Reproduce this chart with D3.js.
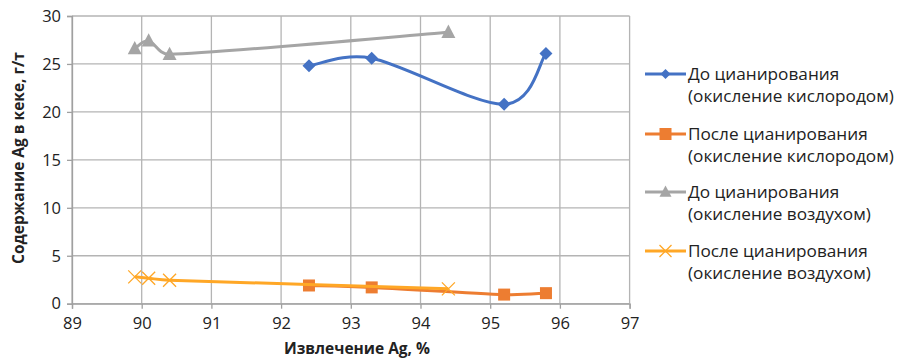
<!DOCTYPE html>
<html><head><meta charset="utf-8">
<script src="https://cdn.jsdelivr.net/npm/d3@7"></script>
<style>body{margin:0;background:#fff;} svg{font-family:"Open Sans","Noto Sans",sans-serif;}</style>
</head><body><svg id="c" width="905" height="360"></svg>
<script>
const xTicks = [89,90,91,92,93,94,95,96,97];
const yTicks = [0,5,10,15,20,25,30];
const seriesNames = [
  ["До цианирования","(окисление кислородом)"],
  ["После цианирования","(окисление кислородом)"],
  ["До цианирования","(окисление воздухом)"],
  ["После цианирования","(окисление воздухом)"]
];
const o2X = [92.4, 93.3, 95.2, 95.8];
const beforeO2 = [24.8, 25.6, 20.8, 26.1];
const afterO2 = [1.9, 1.7, 0.95, 1.1];
const airX = [89.9, 90.1, 90.4, 94.4];
const beforeAir = [26.6, 27.4, 26.0, 28.3];
const afterAir = [2.8, 2.65, 2.45, 1.55];
const colors = ["#4472C4","#ED7D31","#A5A5A5","#FFA726"];
const markers = ["diamond","square","triangle","x"];

const svg = d3.select("#c");
const x = d3.scaleLinear().domain([89,97]).range([72,629.6]);
const y = d3.scaleLinear().domain([0,30]).range([303.7,16]);

const g = svg.append("g");
g.selectAll("line.h").data(yTicks).join("line")
  .attr("x1",x(89)).attr("x2",x(97)).attr("y1",d=>y(d)).attr("y2",d=>y(d))
  .attr("stroke","#b4b4b4").attr("stroke-width",1.3);
g.selectAll("line.v").data(xTicks).join("line")
  .attr("y1",y(0)).attr("y2",y(30)).attr("x1",d=>x(d)).attr("x2",d=>x(d))
  .attr("stroke","#b4b4b4").attr("stroke-width",1.3);

const xa = svg.append("g").attr("transform",`translate(0,${y(0)})`)
  .call(d3.axisBottom(x).tickValues(xTicks).tickSize(5).tickPadding(6));
const ya = svg.append("g").attr("transform",`translate(${x(89)},0)`)
  .call(d3.axisLeft(y).tickValues(yTicks).tickSize(5).tickPadding(6));
[xa,ya].forEach(a=>{
  a.select(".domain").attr("stroke","#a0a0a0").attr("stroke-width",1.3);
  a.selectAll(".tick line").attr("stroke","#a0a0a0").attr("stroke-width",1.3);
  a.selectAll("text").attr("font-size",16.5).attr("fill","#222").attr("font-family","'Open Sans',sans-serif");
});
xa.selectAll("text").attr("dy","0.85em");

svg.append("text").attr("x",357).attr("y",354).attr("text-anchor","middle")
  .attr("font-size",15.5).attr("font-weight","bold").attr("fill","#222").text("Извлечение Ag, %");
svg.append("text").attr("transform",`translate(24,158) rotate(-90)`).attr("text-anchor","middle")
  .attr("font-size",15.5).attr("font-weight","bold").attr("fill","#222").text("Содержание Ag в кеке, г/т");

const data = [
  {xs:o2X, ys:beforeO2},
  {xs:o2X, ys:afterO2},
  {xs:airX, ys:beforeAir},
  {xs:airX, ys:afterAir}
];

// Excel-like smoothing: Bezier with Catmull-Rom tangents, control arms limited by segment length
function smoothPath(pts) {
  const P = pts.map(p=>[x(p[0]), y(p[1])]);
  const n = P.length;
  let d = `M${P[0][0]},${P[0][1]}`;
  const tan = P.map((p,i)=>{
    const a = P[Math.max(0,i-1)], b = P[Math.min(n-1,i+1)];
    return [b[0]-a[0], b[1]-a[1]];
  });
  const len = v=>Math.hypot(v[0],v[1]);
  for (let i=0;i<n-1;i++) {
    const a=P[i], b=P[i+1];
    const seg = len([b[0]-a[0], b[1]-a[1]]);
    let t1 = tan[i].map(v=>v/6), t2 = tan[i+1].map(v=>v/6);
    const l1 = len(t1), l2 = len(t2);
    const lim = seg*0.45;
    if (l1>lim) t1 = t1.map(v=>v*lim/l1);
    if (l2>lim) t2 = t2.map(v=>v*lim/l2);
    d += `C${a[0]+t1[0]},${a[1]+t1[1]} ${b[0]-t2[0]},${b[1]-t2[1]} ${b[0]},${b[1]}`;
  }
  return d;
}

function drawMarker(sel, type, color, cx, cy, s) {
  if (type==="diamond") {
    sel.append("path").attr("d",`M${cx},${cy-s}L${cx+s},${cy}L${cx},${cy+s}L${cx-s},${cy}Z`).attr("fill",color);
  } else if (type==="square") {
    sel.append("rect").attr("x",cx-s).attr("y",cy-s).attr("width",2*s).attr("height",2*s).attr("fill",color);
  } else if (type==="triangle") {
    sel.append("path").attr("d",`M${cx},${cy-s*1.1}L${cx+s},${cy+s*0.8}L${cx-s},${cy+s*0.8}Z`).attr("fill",color);
  } else {
    sel.append("path").attr("d",`M${cx-s},${cy-s}L${cx+s},${cy+s}M${cx-s},${cy+s}L${cx+s},${cy-s}`).attr("stroke",color).attr("stroke-width",1.3).attr("fill","none");
  }
}
const sizes = [6.5,6,7,6.5];
data.forEach((s,i)=>{
  const pts = s.xs.map((v,j)=>[v,s.ys[j]]);
  svg.append("path").attr("d",smoothPath(pts)).attr("fill","none")
    .attr("stroke",colors[i]).attr("stroke-width",3);
  const mg = svg.append("g");
  pts.forEach(p=>drawMarker(mg, markers[i], colors[i], x(p[0]), y(p[1]), sizes[i]));
});

const legY = [74,134,192,251];
seriesNames.forEach((nm,i)=>{
  const lg = svg.append("g");
  lg.append("line").attr("x1",645).attr("x2",686).attr("y1",legY[i]).attr("y2",legY[i])
    .attr("stroke",colors[i]).attr("stroke-width",3);
  drawMarker(lg, markers[i], colors[i], 665.5, legY[i], [5,6,6,6][i]);
  const t = lg.append("text").attr("x",688).attr("y",legY[i]+5.5).attr("font-size",17.2).attr("fill","#222");
  t.append("tspan").attr("x",688).text(nm[0]);
  t.append("tspan").attr("x",688).attr("dy",22).text(nm[1]);
});
</script></body></html>
